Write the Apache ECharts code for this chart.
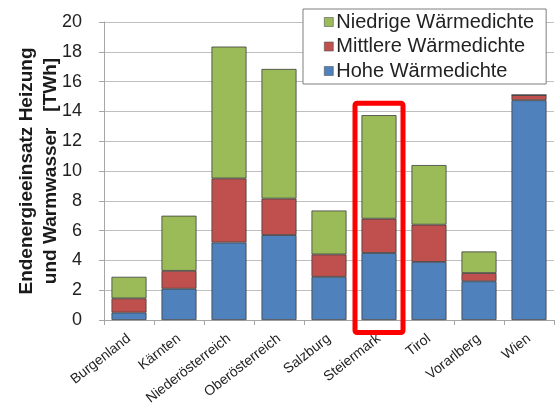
<!DOCTYPE html>
<html>
<head>
<meta charset="utf-8">
<script src="https://cdn.jsdelivr.net/npm/echarts@6/dist/echarts.min.js"></script>
<style>
    html, body { margin: 0; padding: 0; background: #fff; }
    #chart { width: 560px; height: 410px; }
</style>
</head>
<body>
<div id="chart"></div>
<script>
// Bundesländer
var regions = ['Burgenland', 'Kärnten', 'Niederösterreich', 'Oberösterreich', 'Salzburg',
    'Steiermark', 'Tirol', 'Vorarlberg', 'Wien'];
// TWh je Wärmedichte-Klasse
var hohe = [0.5, 2.1, 5.2, 5.7, 2.9, 4.5, 3.9, 2.6, 14.75];
var mittlere = [0.95, 1.2, 4.3, 2.45, 1.5, 2.3, 2.5, 0.55, 0.35];
var niedrige = [1.45, 3.7, 8.85, 8.7, 2.95, 6.95, 4.0, 1.45, 0];
var yTicks = [0, 2, 4, 6, 8, 10, 12, 14, 16, 18, 20];
var highlight = 'Steiermark';

var font = 'Liberation Sans';
var mychart = echarts.init(document.getElementById('chart'));

function barSeries(name, data, color) {
    return {
        name: name,
        type: 'bar',
        stack: 'total',
        data: data,
        barWidth: '70%',
        itemStyle: {
            color: color,
            borderColor: '#3d3d3d',
            borderWidth: 0.8
        }
    };
}

var option = {
    animation: false,
    textStyle: {fontFamily: font},
    grid: {left: 104, right: 6, top: 22, bottom: 90},
    legend: {
        orient: 'vertical',
        left: 303,
        top: 9,
        padding: [3, 12, 3, 21],
        backgroundColor: '#fff',
        borderColor: '#7f7f7f',
        borderWidth: 1,
        itemWidth: 9,
        itemHeight: 9,
        itemGap: 4.5,
        icon: 'rect',
        itemStyle: {borderColor: '#555', borderWidth: 0.6},
        data: ['Niedrige Wärmedichte', 'Mittlere Wärmedichte', 'Hohe Wärmedichte'],
        textStyle: {fontSize: 20, color: '#222', fontFamily: font, lineHeight: 20, padding: [0, 0, 0, -2]}
    },
    xAxis: {
        type: 'category',
        data: regions,
        axisLine: {lineStyle: {color: '#a6a6a6'}},
        axisTick: {show: true, length: 5, lineStyle: {color: '#a6a6a6'}},
        axisLabel: {rotate: 38, fontSize: 14, color: '#222', margin: 17, interval: 0}
    },
    yAxis: {
        type: 'value',
        min: 0,
        max: yTicks[yTicks.length - 1],
        interval: yTicks[1] - yTicks[0],
        name: 'Endenergieeinsatz Heizung\nund Warmwasser   [TWh]',
        nameLocation: 'middle',
        nameRotate: 90,
        nameGap: 41,
        nameMoveOverlap: false,
        nameTextStyle: {fontSize: 19, fontWeight: 'bold', color: '#1a1a1a', lineHeight: 24},
        axisLine: {show: true, lineStyle: {color: '#a6a6a6'}},
        axisTick: {show: true, length: 5, lineStyle: {color: '#a6a6a6'}},
        axisLabel: {fontSize: 18, color: '#222', margin: 22},
        splitLine: {lineStyle: {color: '#bfbfbf'}}
    },
    series: [
        barSeries('Hohe Wärmedichte', hohe, '#4f81bd'),
        barSeries('Mittlere Wärmedichte', mittlere, '#c0504d'),
        barSeries('Niedrige Wärmedichte', niedrige, '#9bbb59')
    ]
};
mychart.setOption(option);

// roter Rahmen um die hervorgehobene Kategorie
var centerX = mychart.convertToPixel({xAxisIndex: 0}, highlight);
var boxTop = mychart.convertToPixel({yAxisIndex: 0}, 14.55);
var axisY = mychart.convertToPixel({yAxisIndex: 0}, 0);
mychart.setOption({
    graphic: [{
        type: 'rect',
        z: 100,
        shape: {x: centerX - 24, y: boxTop, width: 48, height: axisY + 12.5 - boxTop, r: 2},
        style: {fill: 'none', stroke: '#ff0000', lineWidth: 5}
    }]
});
</script>
</body>
</html>
